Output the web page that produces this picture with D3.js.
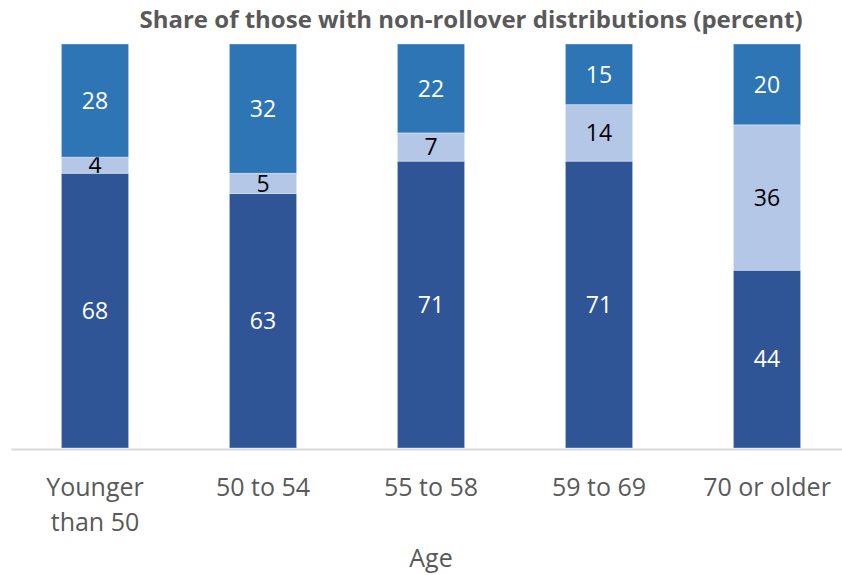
<!DOCTYPE html>
<html>
<head>
<meta charset="utf-8">
<script src="https://cdn.jsdelivr.net/npm/d3@7"></script>
<style>
  body { margin: 0; background: #fff; }
  text { font-family: "Open Sans", sans-serif; }
</style>
</head>
<body>
<svg id="chart" width="842" height="575"></svg>
<script>
// data
const ageGroups = ["Younger than 50", "50 to 54", "55 to 58", "59 to 69", "70 or older"];
const bottomSeries = [68, 63, 71, 71, 44];
const middleSeries = [4, 5, 7, 14, 36];
const topSeries = [28, 32, 22, 15, 20];
const seriesColors = ["#2F5597", "#B4C7E7", "#2E75B6"];
const labelColors = ["#ffffff", "#000000", "#ffffff"];

const svg = d3.select("#chart");
const margin = {top: 44, right: -9, bottom: 127, left: 11};
const width = 842, height = 575;
const innerWidth = width - margin.left - margin.right;
const innerHeight = height - margin.top - margin.bottom;

const g = svg.append("g")
  .attr("transform", `translate(${margin.left},${margin.top})`);

const rows = ageGroups.map((a, i) => ({
  age: a, s0: bottomSeries[i], s1: middleSeries[i], s2: topSeries[i]
}));
const stack = d3.stack().keys(["s0", "s1", "s2"])(rows);

const x = d3.scaleBand()
  .domain(ageGroups)
  .range([0, innerWidth])
  .paddingInner(0.6)
  .paddingOuter(0.3);

const y = d3.scaleLinear()
  .domain([0, 100])
  .range([innerHeight, 0]);

// bars
const layers = g.selectAll(".layer")
  .data(stack)
  .enter().append("g")
    .attr("class", "layer")
    .attr("fill", (d, i) => seriesColors[i]);

layers.selectAll("rect")
  .data(d => d)
  .enter().append("rect")
    .attr("x", d => x(d.data.age))
    .attr("width", x.bandwidth())
    .attr("y", d => y(d[1]))
    .attr("height", d => y(d[0]) - y(d[1]))
    .attr("stroke", "#ffffff")
    .attr("stroke-opacity", 0.35)
    .attr("stroke-width", 1);

// value labels
layers.selectAll("text")
  .data(d => d)
  .enter().append("text")
    .attr("x", d => x(d.data.age) + x.bandwidth() / 2)
    .attr("y", d => (y(d[0]) + y(d[1])) / 2)
    .attr("dy", "0.36em")
    .attr("text-anchor", "middle")
    .attr("font-size", 23)
    .attr("fill", function() {
      const i = stack.indexOf(d3.select(this.parentNode).datum());
      return labelColors[i];
    })
    .text(d => d[1] - d[0]);

// x axis
const xAxisG = g.append("g")
  .attr("transform", `translate(0,${innerHeight})`)
  .call(d3.axisBottom(x).tickSize(0).tickPadding(0));
xAxisG.select(".domain")
  .attr("stroke", "#d9d9d9")
  .attr("stroke-width", 2)
  .attr("transform", "translate(0,1)");

xAxisG.selectAll(".tick text").remove();
xAxisG.selectAll(".tick").append("text")
  .attr("fill", "#595959")
  .attr("font-size", 25)
  .attr("text-anchor", "middle")
  .each(function(d) {
    const lines = d === "Younger than 50" ? ["Younger", "than 50"] : [d];
    d3.select(this).selectAll("tspan")
      .data(lines)
      .enter().append("tspan")
        .attr("x", 0)
        .attr("y", (l, i) => 48 + i * 35)
        .text(l => l);
  });

// axis title
g.append("text")
  .attr("x", x("55 to 58") + x.bandwidth() / 2)
  .attr("y", innerHeight + 119)
  .attr("text-anchor", "middle")
  .attr("fill", "#595959")
  .attr("font-size", 25)
  .text("Age");

// chart title
svg.append("text")
  .attr("x", 471)
  .attr("y", 28)
  .attr("text-anchor", "middle")
  .attr("fill", "#595959")
  .attr("font-size", 24)
  .attr("font-weight", "bold")
  .text("Share of those with non-rollover distributions (percent)");
</script>
</body>
</html>
